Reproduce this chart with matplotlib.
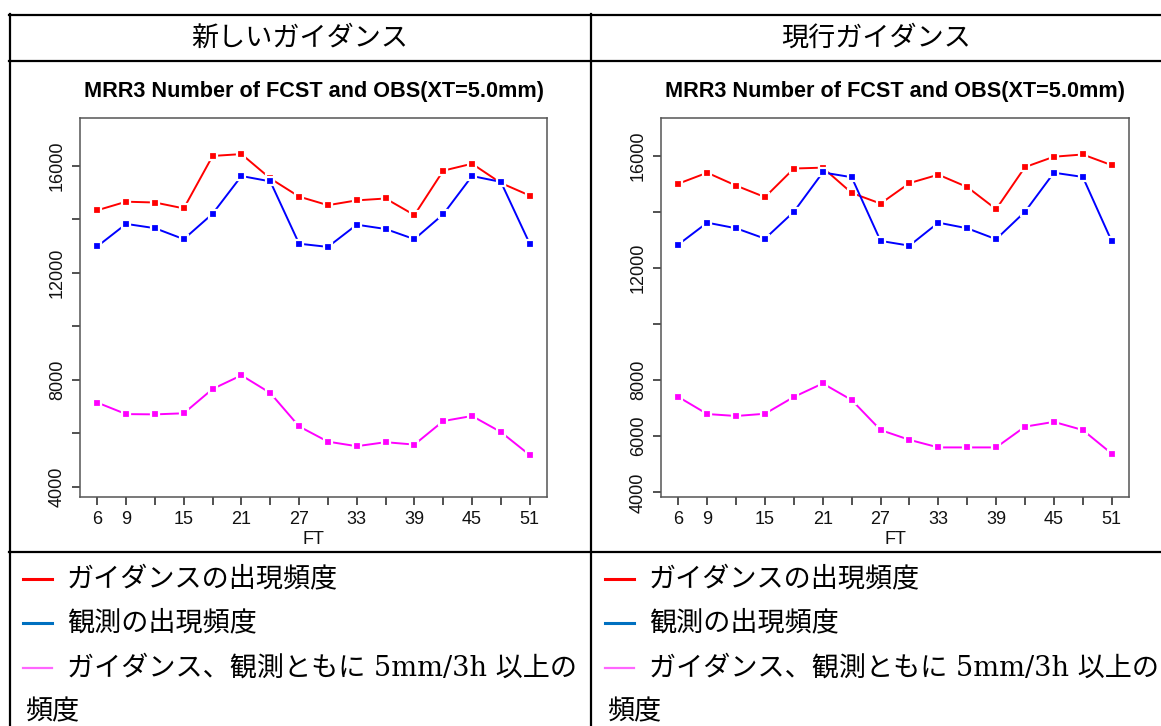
import matplotlib.pyplot as plt
from matplotlib.lines import Line2D

# FT (forecast time) axis
ft = [6, 9, 12, 15, 18, 21, 24, 27, 30, 33, 36, 39, 42, 45, 48, 51]
ft_labels = [6, 9, 15, 21, 27, 33, 39, 45, 51]

# new guidance
new_fcst = [14330, 14650, 14620, 14400, 16360, 16430, 15520, 14840,
            14520, 14700, 14770, 14150, 15810, 16070, 15350, 14880]
new_obs = [12980, 13820, 13660, 13250, 14200, 15610, 15410, 13080,
           12960, 13790, 13630, 13250, 14180, 15610, 15390, 13080]
new_both = [7140, 6710, 6700, 6740, 7650, 8160, 7500, 6250,
            5680, 5510, 5660, 5570, 6450, 6640, 6040, 5180]

# current guidance
cur_fcst = [15000, 15390, 14930, 14520, 15540, 15570, 14670, 14290,
            15020, 15320, 14880, 14090, 15590, 15960, 16040, 15660]
cur_obs = [12830, 13610, 13410, 13040, 14000, 15400, 15230, 12960,
           12790, 13610, 13410, 13020, 14000, 15390, 15240, 12950]
cur_both = [7400, 6790, 6720, 6800, 7400, 7880, 7290, 6220,
            5870, 5600, 5600, 5600, 6340, 6510, 6220, 5380]

headers = ["新しいガイダンス", "現行ガイダンス"]
title = "MRR3 Number of FCST and OBS(XT=5.0mm)"
legend_texts = ["ガイダンスの出現頻度", "観測の出現頻度",
                "ガイダンス、観測ともに 5mm/3h 以上の", "頻度"]
legend_colors = ["#ff0000", "#0070c0", "#ff66ff"]

W, H = 1161, 726
fig = plt.figure(figsize=(W / 100, H / 100), dpi=100)
jp = ["Noto Sans CJK JP", "DejaVu Sans"]


def px(x, y):
    # pixel (from top-left) -> figure fraction
    return x / W, 1 - y / H


def hline(y, x0, x1, lw=1.6, color="black"):
    a, b = px(x0, y), px(x1, y)
    fig.add_artist(Line2D([a[0], b[0]], [a[1], b[1]], color=color, lw=lw))


def vline(x, y0, y1, lw=1.6):
    a, b = px(x, y0), px(x, y1)
    fig.add_artist(Line2D([a[0], b[0]], [a[1], b[1]], color="black", lw=lw))


# table grid
hline(15, 9, W)
hline(61, 9, W)
hline(552, 9, W)
vline(10, 14, H)
vline(591, 14, H)

# header row
for cx, h in zip([300, 876], headers):
    fig.text(*px(cx, 38), h, family=jp, fontsize=19.5, ha="center", va="center")


def draw_chart(box, fcst, obs, both, ylim, ylabels):
    x0, y0, x1, y1 = box
    ax = fig.add_axes([x0 / W, 1 - y1 / H, (x1 - x0) / W, (y1 - y0) / H])
    for vals, c in [(fcst, "#ff0000"), (obs, "#0000ff"), (both, "#ff00ff")]:
        ax.plot(ft, vals, color=c, lw=1.4, marker="s", ms=6.2,
                markerfacecolor=c, markeredgecolor="white", mew=1.6)
    ax.set_xlim(4.2, 52.8)
    ax.set_ylim(*ylim)
    ax.set_xticks(ft)
    ax.set_xticklabels([str(v) if v in ft_labels else "" for v in ft])
    yt = [4000, 6000, 8000, 10000, 12000, 14000, 16000]
    ax.set_yticks(yt)
    ax.set_yticklabels([str(v) if v in ylabels else "" for v in yt])
    ax.tick_params(length=6, width=1.1, color="#222222", labelsize=13,
                   labelcolor="#111111")
    ax.tick_params(axis="x", pad=4)
    ax.tick_params(axis="y", labelrotation=90, pad=4)
    for lab in ax.get_yticklabels():
        lab.set_va("center")
    for s in ax.spines.values():
        s.set_color("#555555")
        s.set_linewidth(1.1)
    ax.set_xlabel("FT", fontsize=13, labelpad=2, color="#111111")
    ax.set_title(title, fontsize=15.6, fontweight="bold", pad=15)
    return ax


plt.rcParams["font.family"] = ["Liberation Sans", "DejaVu Sans"]

draw_chart((80, 118, 547, 497), new_fcst, new_obs, new_both,
           (3611, 17779), [4000, 8000, 12000, 16000])
draw_chart((661, 118, 1129, 497), cur_fcst, cur_obs, cur_both,
           (3833, 17340), [4000, 6000, 8000, 12000, 16000])

# legend rows (text cells)
rows_y = [579, 623, 668, 712]
for col_x in [10, 592]:
    for i, c in enumerate(legend_colors):
        hline(rows_y[i], col_x + 13, col_x + 42, lw=2.2 if i < 2 else 1.6, color=c)
    for i, t in enumerate(legend_texts):
        tx = col_x + 57 if i < 3 else col_x + 15
        fam = ["DejaVu Serif", "Noto Sans CJK JP"] if "5mm" in t else jp
        fig.text(*px(tx, rows_y[i]), t, family=fam, fontsize=19.5,
                 ha="left", va="center")

fig.savefig("out.png", dpi=100)
